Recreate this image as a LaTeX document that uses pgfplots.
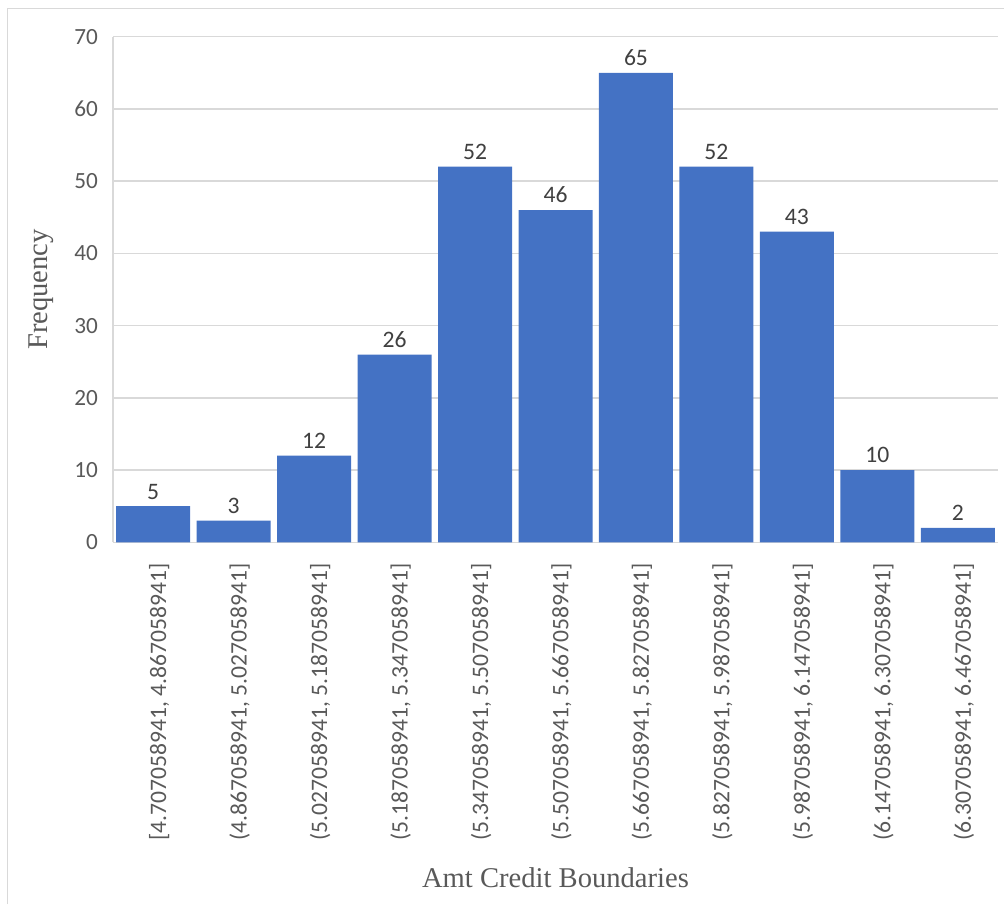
\documentclass[border=0pt]{standalone}
\usepackage{pgfplots}
\pgfplotsset{compat=1.18}
\usepackage{fontspec}
\setmainfont{Liberation Serif}
\newfontfamily\calib{Carlito}
\definecolor{barblue}{HTML}{4472C4}
\definecolor{gridgrey}{HTML}{D9D9D9}
\definecolor{txtgrey}{HTML}{595959}
\definecolor{lblgrey}{HTML}{404040}
\begin{document}
\begin{tikzpicture}
% canvas and chart frame
\path[use as bounding box] (0,0) rectangle (502pt,452pt);
\draw[gridgrey, line width=0.7pt] (3.65pt,0) -- (3.65pt,447.85pt) -- (502pt,447.85pt);
\begin{axis}[
  at={(56.5pt,180.85pt)}, anchor=south west,
  scale only axis,
  width=442.5pt, height=252.8pt,
  ybar, bar width=0.92,
  xmin=-0.5, xmax=10.5, ymin=0, ymax=70,
  enlargelimits=false,
  axis x line*=bottom, axis y line*=left,
  axis line style={draw=gridgrey, line width=0.7pt},
  major tick length=0pt,
  ytick={0,10,...,70},
  ymajorgrids,
  grid style={draw=gridgrey, line width=0.7pt},
  xtick=data,
  xticklabels={{[4.707058941, 4.867058941]},{(4.867058941, 5.027058941]},{(5.027058941, 5.187058941]},{(5.187058941, 5.347058941]},{(5.347058941, 5.507058941]},{(5.507058941, 5.667058941]},{(5.667058941, 5.827058941]},{(5.827058941, 5.987058941]},{(5.987058941, 6.147058941]},{(6.147058941, 6.307058941]},{(6.307058941, 6.467058941]}},
  /pgf/number format/assume math mode=true,
  yticklabel style={font=\calib\fontsize{11.6}{13}\selectfont, text=txtgrey, anchor=east, inner sep=0pt, xshift=-7.35pt},
  xticklabel style={font=\calib\fontsize{11.8}{13}\selectfont, text=txtgrey, inner sep=0pt, xshift=3pt, rotate=90, anchor=east},
  xticklabel shift=10.5pt,
  xlabel={Amt Credit Boundaries},
  ylabel={Frequency},
  xlabel style={font=\fontsize{14.3}{16}\selectfont, text=txtgrey, at={(axis description cs:0.5,-0.6824)}, anchor=base, inner sep=0pt},
  ylabel style={font=\fontsize{14.3}{16}\selectfont, text=txtgrey, at={(axis description cs:-0.07424,0.5)}, rotate=0, anchor=base, inner sep=0pt},
  nodes near coords,
  every node near coord/.append style={font=\calib\fontsize{11.8}{13}\selectfont, text=lblgrey, inner sep=0pt, yshift=3.3pt},
]
\addplot[fill=barblue, draw=none] coordinates {
  (0,5) (1,3) (2,12) (3,26) (4,52) (5,46)
  (6,65) (7,52) (8,43) (9,10) (10,2)
};
\end{axis}
\end{tikzpicture}
\end{document}
